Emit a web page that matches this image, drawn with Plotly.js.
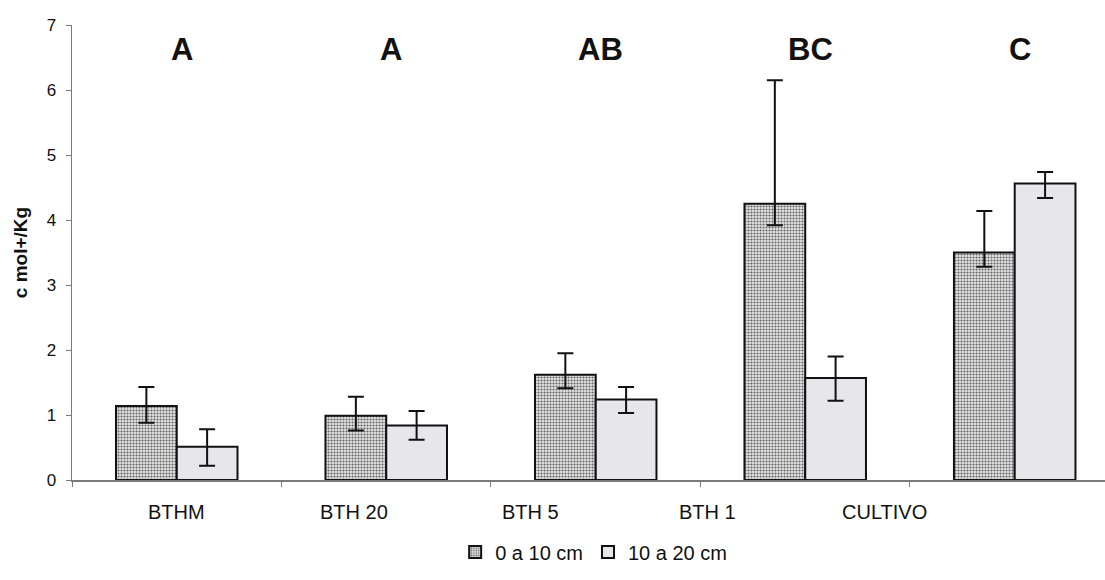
<!DOCTYPE html>
<html>
<head>
<meta charset="utf-8">
<script src="https://cdn.plot.ly/plotly-3.0.1.min.js"></script>
<style>
  html, body { margin: 0; padding: 0; background: #ffffff; }
  #chart { width: 1105px; height: 580px; }
</style>
</head>
<body>
<div id="chart"></div>
<script>
// Treatments along the x axis
const categories = ['BTHM', 'BTH 20', 'BTH 5', 'BTH 1', 'CULTIVO'];

// Depth 0–10 cm: mean and error bar limits (c mol+/Kg)
const depth0to10 = [1.14, 0.99, 1.62, 4.25, 3.50];
const depth0to10Upper = [1.43, 1.28, 1.95, 6.15, 4.14];
const depth0to10Lower = [0.88, 0.76, 1.41, 3.92, 3.28];

// Depth 10–20 cm: mean and error bar limits (c mol+/Kg)
const depth10to20 = [0.51, 0.84, 1.24, 1.57, 4.56];
const depth10to20Upper = [0.78, 1.06, 1.43, 1.90, 4.74];
const depth10to20Lower = [0.22, 0.62, 1.03, 1.22, 4.34];

// Significance letters above each treatment
const groupLetters = ['A', 'A', 'AB', 'BC', 'C'];

// Legend labels
const seriesNames = ['0 a 10 cm', '10 a 20 cm'];

const plus = (hi, mid) => hi.map((v, i) => +(v - mid[i]).toFixed(3));
const minus = (lo, mid) => lo.map((v, i) => +(mid[i] - v).toFixed(3));

const errStyle = { type: 'data', symmetric: false, color: '#111111', thickness: 2, width: 8 };

const traces = [
  {
    type: 'bar',
    name: seriesNames[0],
    x: categories,
    y: depth0to10,
    marker: {
      color: '#d8d8d8',
      line: { color: '#111111', width: 2 },
      pattern: { shape: '.', fgcolor: '#626262', bgcolor: '#e4e4e4', size: 3, solidity: 0.4 }
    },
    error_y: Object.assign({}, errStyle, {
      array: plus(depth0to10Upper, depth0to10),
      arrayminus: minus(depth0to10Lower, depth0to10)
    }),
    hoverinfo: 'x+y+name'
  },
  {
    type: 'bar',
    name: seriesNames[1],
    x: categories,
    y: depth10to20,
    marker: {
      color: '#e7e7eb',
      line: { color: '#111111', width: 2 }
    },
    error_y: Object.assign({}, errStyle, {
      array: plus(depth10to20Upper, depth10to20),
      arrayminus: minus(depth10to20Lower, depth10to20)
    }),
    hoverinfo: 'x+y+name'
  }
];

const letterAnnotations = groupLetters.map((txt, i) => ({
  x: categories[i],
  y: 6.62,
  xref: 'x',
  yref: 'y',
  text: txt,
  showarrow: false,
  xshift: 5,
  font: { family: 'Liberation Sans, Arial, sans-serif', size: 31, color: '#111111', weight: 'bold' }
}));

// Category names sit under the axis on a narrower pitch than the bar groups
const labelPitch = 0.845;   // in category units
const labelStart = 0.0;
const categoryLabels = categories.map((name, i) => ({
  x: labelStart + i * labelPitch,
  y: 0,
  xref: 'x',
  yref: 'y',
  yanchor: 'middle',
  yshift: -32,
  text: name,
  showarrow: false,
  font: { family: 'Liberation Sans, Arial, sans-serif', size: 20, color: '#111111' }
}));

const layout = {
  width: 1105,
  height: 580,
  margin: { l: 72, r: 0, t: 25, b: 100 },
  paper_bgcolor: '#ffffff',
  plot_bgcolor: '#ffffff',
  barmode: 'group',
  bargap: 0.42,
  bargroupgap: 0,
  showlegend: true,
  font: { family: 'Liberation Sans, Arial, sans-serif', color: '#111111' },
  xaxis: {
    type: 'category',
    range: [-0.5, 4.431],
    showline: true,
    linecolor: '#7a7a7a',
    linewidth: 1.5,
    ticks: 'outside',
    tickson: 'boundaries',
    ticklen: 5,
    tickcolor: '#7a7a7a',
    showticklabels: false,
    showgrid: false,
    zeroline: false,
    fixedrange: true
  },
  yaxis: {
    range: [0, 7],
    tickvals: [0, 1, 2, 3, 4, 5, 6, 7],
    showline: true,
    linecolor: '#7a7a7a',
    linewidth: 1.5,
    ticks: 'outside',
    ticklen: 5,
    tickcolor: '#7a7a7a',
    tickfont: { size: 17, color: '#111111' },
    ticklabelstandoff: 6,
    showgrid: false,
    zeroline: false,
    title: {
      text: 'c mol+/Kg',
      font: { size: 19, color: '#111111', weight: 'bold' },
      standoff: 14
    },
    fixedrange: true
  },
  legend: {
    orientation: 'h',
    x: 0.505,
    xanchor: 'center',
    y: -0.158,
    yanchor: 'middle',
    font: { size: 20, color: '#111111' },
    itemwidth: 30,
    tracegroupgap: 0,
    bgcolor: 'rgba(0,0,0,0)'
  },
  annotations: letterAnnotations.concat(categoryLabels)
};

Plotly.newPlot('chart', traces, layout, { displayModeBar: false, staticPlot: true });
</script>
</body>
</html>
